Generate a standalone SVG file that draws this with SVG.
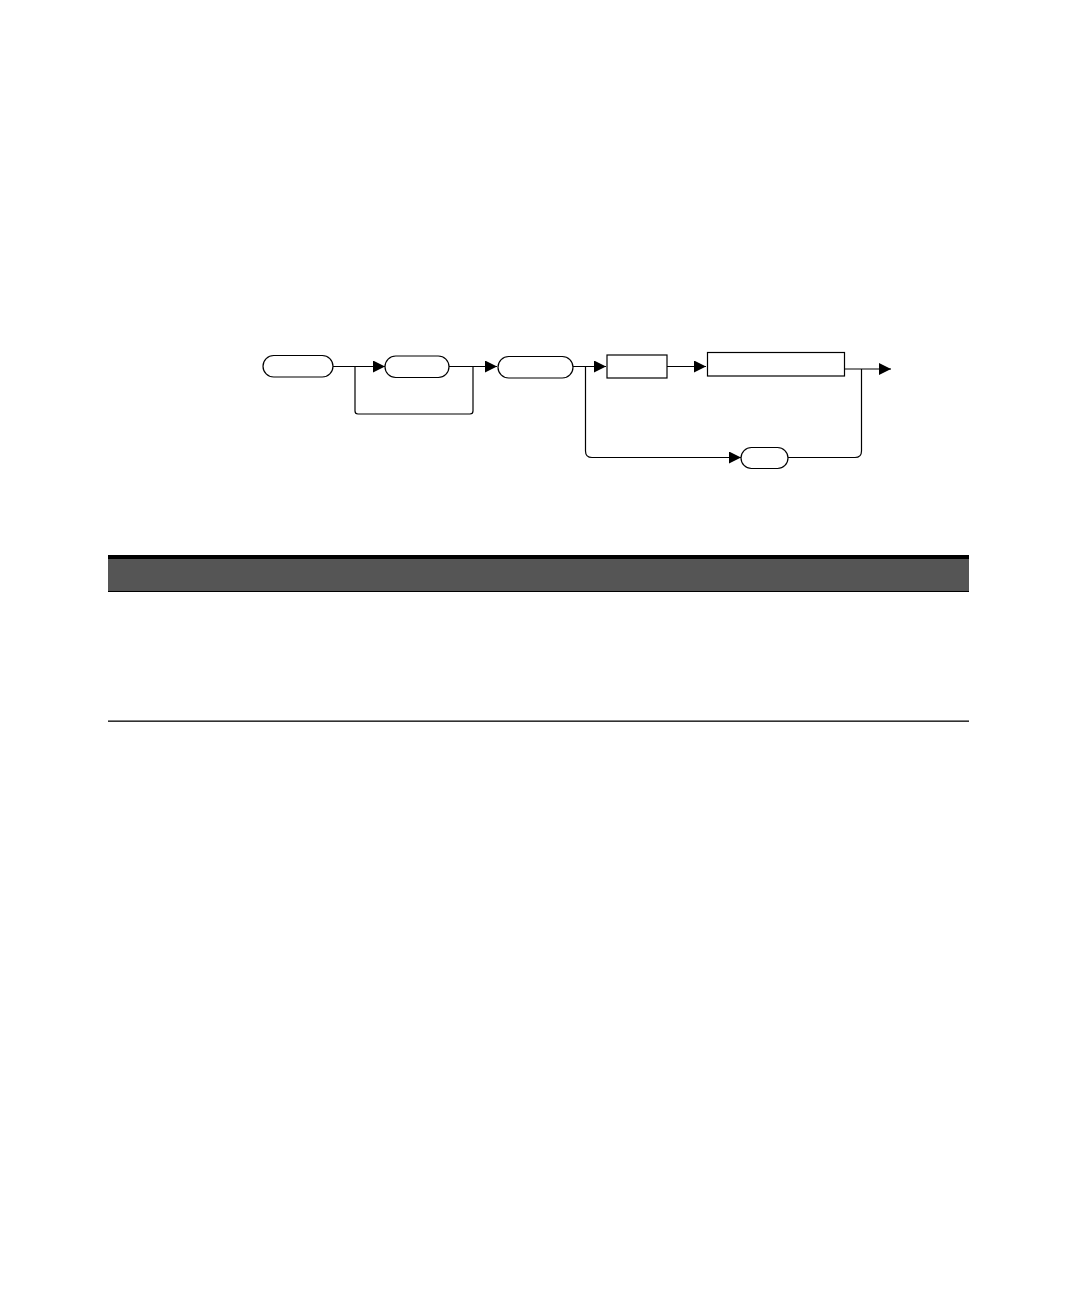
<svg xmlns="http://www.w3.org/2000/svg" width="1080" height="1296" viewBox="0 0 1080 1296">
<defs>
<style>
.node{fill:#fff;stroke:#000;stroke-width:1.2}
.conn{fill:none;stroke:#000;stroke-width:1.2}
</style>
<marker id="arr" markerWidth="12" markerHeight="12" refX="12" refY="6" orient="auto" markerUnits="userSpaceOnUse">
<path d="M0,0 L12,6 L0,12 Z" fill="#000"/>
</marker>
</defs>
<rect width="1080" height="1296" fill="#fff"/>
<g id="connectors">
<path class="conn" d="M333,366.5 H385" marker-end="url(#arr)"/>
<path class="conn" d="M355,366.5 V411 Q355,414 358,414 H470 Q473,414 473,411 V366.5"/>
<path class="conn" d="M449,366.5 H497" marker-end="url(#arr)"/>
<path class="conn" d="M573,366.5 H606" marker-end="url(#arr)"/>
<path class="conn" d="M585.5,366.5 V451 Q585.5,457.5 592,457.5 H741" marker-end="url(#arr)"/>
<path class="conn" d="M667,366.5 H706" marker-end="url(#arr)"/>
<path class="conn" d="M844,369 H891" marker-end="url(#arr)"/>
<path class="conn" d="M861.5,369 V451 Q861.5,457.5 855,457.5 H788"/>
</g>
<g id="n1"><rect class="node" x="263" y="355.5" width="70" height="21.5" rx="10.75"/></g>
<g id="n2"><rect class="node" x="385" y="356" width="64" height="21.5" rx="10.75"/></g>
<g id="n3"><rect class="node" x="498" y="356.5" width="75" height="21.5" rx="10.75"/></g>
<g id="n4"><rect class="node" x="607" y="355" width="60" height="23"/></g>
<g id="n5"><rect class="node" x="707.5" y="352.5" width="137" height="23.5"/></g>
<g id="n6"><rect class="node" x="741" y="447.5" width="47" height="21" rx="10.5"/></g>
<g id="table">
<rect x="108" y="555" width="861" height="4" fill="#000"/>
<rect x="108" y="559" width="861" height="31.5" fill="#555555"/>
<rect x="108" y="590.5" width="861" height="1.5" fill="#000"/>
<rect x="108" y="720.5" width="861" height="1.3" fill="#000"/>
</g>
</svg>
